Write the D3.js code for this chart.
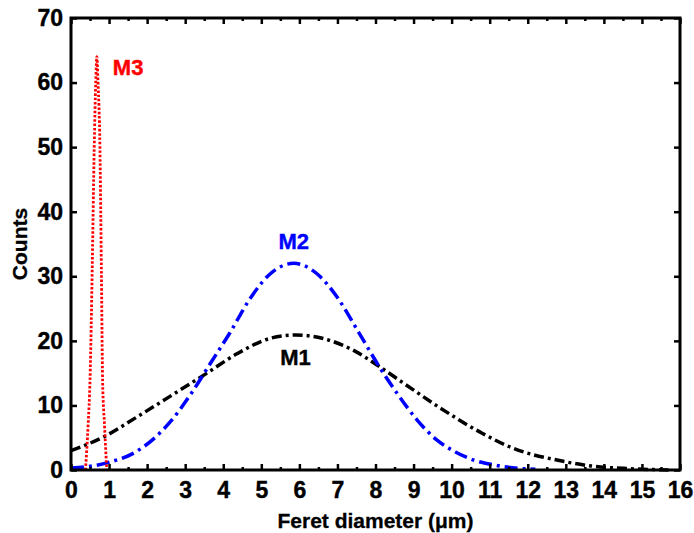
<!DOCTYPE html>
<html>
<head>
<meta charset="utf-8">
<script src="https://cdn.jsdelivr.net/npm/d3@7"></script>
<style>
  body { margin: 0; background: #fff; }
  text { font-family: "Liberation Sans", Arial, sans-serif; font-weight: bold; }
</style>
</head>
<body>
<div id="chart"></div>
<script>
// Feret diameter distributions
let m1X = [0, 0.85, 1.73, 2.6, 3.57, 4.36, 5.24, 5.9, 6.6, 7.4, 8.13, 8.7, 9.7, 10.8, 11.6, 12.8, 13.7, 14.7, 15.7];
let m1Y = [3.0, 5.1, 8.2, 11.4, 15.0, 18.0, 20.4, 20.9, 20.4, 18.6, 15.9, 13.6, 9.6, 5.7, 3.4, 1.5, 0.6, 0.2, 0];

let m2X = [0, 0.94, 1.73, 2.6, 3.13, 3.66, 4.18, 4.7, 5.2, 5.85, 6.5, 7.0, 7.55, 8.13, 8.6, 9.1, 9.6, 10.1, 10.6, 11.1, 11.6, 12.2];
let m2Y = [0.3, 1.1, 2.9, 7.4, 11.6, 16.5, 21.3, 26.5, 30.2, 32, 30.2, 26.7, 21.4, 15.7, 11.6, 7.7, 4.7, 2.8, 1.5, 0.8, 0.35, 0.1];

let m3X = [0.38, 0.45, 0.5, 0.56, 0.61, 0.65, 0.68, 0.71, 0.76, 0.8, 0.83, 0.88, 0.94];
let m3Y = [0, 7, 14, 32, 50, 60, 64, 60, 50, 30, 14, 7, 0];

let xTicks = d3.range(0, 17, 1);
let yTicks = [0, 10, 20, 30, 40, 50, 60, 70];

let series = [
  { name: 'M1', xs: m1X, ys: m1Y, color: '#000000', dash: '10,4,3,4', width: 3.5, lx: 5.9, ly: 16.2 },
  { name: 'M2', xs: m2X, ys: m2Y, color: '#0000ff', dash: '13,5,3,5', width: 3.5, lx: 5.85, ly: 34.2 },
  { name: 'M3', xs: m3X, ys: m3Y, color: '#ff0000', dash: '2.5,1.8', width: 2.8, lx: 1.1, ly: 61.2 }
];

const W = 694, H = 533;
const margin = { top: 18, right: 14, bottom: 63, left: 71 };
const iw = W - margin.left - margin.right;
const ih = H - margin.top - margin.bottom;

const svg = d3.select('#chart').append('svg')
  .attr('width', W)
  .attr('height', H);

const g = svg.append('g')
  .attr('transform', 'translate(' + margin.left + ',' + margin.top + ')');

const x = d3.scaleLinear().domain([0, 16]).range([0, iw]);
const y = d3.scaleLinear().domain([0, 70]).range([ih, 0]);

// curves
const line = d3.line()
  .x(d => x(d[0]))
  .y(d => y(d[1]))
  .curve(d3.curveMonotoneX);

series.forEach(s => {
  let pts = s.xs.map((v, i) => [v, s.ys[i]]);
  g.append('path')
    .attr('d', line(pts))
    .attr('fill', 'none')
    .attr('stroke', s.color)
    .attr('stroke-width', s.width)
    .attr('stroke-dasharray', s.dash);
});

// labels of the curves
g.selectAll('.lbl')
  .data(series)
  .enter().append('text')
  .attr('class', 'lbl')
  .attr('x', d => x(d.lx))
  .attr('y', d => y(d.ly))
  .attr('text-anchor', d => d.name === 'M3' ? 'start' : 'middle')
  .attr('fill', d => d.color)
  .attr('stroke', d => d.color)
  .attr('stroke-width', 0.4)
  .attr('font-size', 22)
  .text(d => d.name);

// axes, ticks pointing inward on all four sides
const halfTicks = d3.range(0, 16.5, 0.5).filter(v => v % 1 !== 0);

function styleAxis(sel) {
  sel.select('.domain').remove();
  sel.selectAll('line').attr('stroke', '#000').attr('stroke-width', 2.5);
  sel.selectAll('text').attr('font-size', 23).attr('fill', '#000')
    .attr('stroke', '#000').attr('stroke-width', 0.4);
}

g.append('g')
  .attr('transform', 'translate(0,' + ih + ')')
  .call(d3.axisBottom(x).tickValues(xTicks).tickFormat(d3.format('d')).tickSizeInner(-6).tickSizeOuter(0).tickPadding(12))
  .call(styleAxis);

g.append('g')
  .attr('transform', 'translate(0,' + ih + ')')
  .call(d3.axisBottom(x).tickValues(halfTicks).tickFormat('').tickSizeInner(-3).tickSizeOuter(0))
  .call(styleAxis);

g.append('g')
  .call(d3.axisTop(x).tickValues(xTicks).tickFormat('').tickSizeInner(-6).tickSizeOuter(0))
  .call(styleAxis);

g.append('g')
  .call(d3.axisTop(x).tickValues(halfTicks).tickFormat('').tickSizeInner(-3).tickSizeOuter(0))
  .call(styleAxis);

g.append('g')
  .call(d3.axisLeft(y).tickValues(yTicks).tickFormat(d3.format('d')).tickSizeInner(-6).tickSizeOuter(0).tickPadding(8))
  .call(styleAxis);

g.append('g')
  .attr('transform', 'translate(' + iw + ',0)')
  .call(d3.axisRight(y).tickValues(yTicks).tickFormat('').tickSizeInner(-6).tickSizeOuter(0))
  .call(styleAxis);

// frame
g.append('rect')
  .attr('width', iw)
  .attr('height', ih)
  .attr('fill', 'none')
  .attr('stroke', '#000')
  .attr('stroke-width', 3);

// axis titles
svg.append('text')
  .attr('x', margin.left + iw / 2)
  .attr('y', 528)
  .attr('text-anchor', 'middle')
  .attr('font-size', 21)
  .attr('stroke', '#000')
  .attr('stroke-width', 0.3)
  .text('Feret diameter (\u03bcm)');

svg.append('text')
  .attr('transform', 'translate(27,' + (margin.top + ih / 2) + ') rotate(-90)')
  .attr('text-anchor', 'middle')
  .attr('font-size', 21)
  .attr('stroke', '#000')
  .attr('stroke-width', 0.3)
  .text('Counts');
</script>
</body>
</html>
